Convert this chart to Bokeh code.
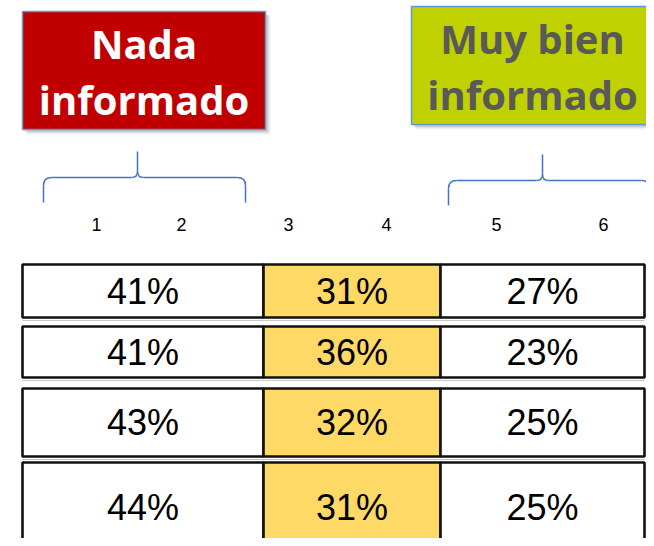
from bokeh.plotting import figure
from bokeh.models import Range1d
from bokeh.core.properties import value
from bokeh.embed import file_html
from bokeh.resources import INLINE

# ---- data ----
scale_ticks = ["1", "2", "3", "4", "5", "6"]
low_pct = [41, 41, 43, 44]      # 1-2  (Nada informado)
mid_pct = [31, 36, 32, 31]      # 3-4
high_pct = [27, 23, 25, 25]     # 5-6  (Muy bien informado)
box_titles = [["Nada", "informado"], ["Muy bien", "informado"]]

# ---- layout (pixel coordinates) ----
W, H = 646, 538
tick_x = [96, 181, 288, 386, 496, 603]
col_edges = [22, 263, 440, 644]
row_tops = [264, 326, 388, 462]
row_bottoms = [317, 377, 456, 552]
box_geo = [  # left, right, top, bottom
    (22, 265, 11, 129),
    (411, 653, 6, 124),
]
box_fill = ["#C00000", "#BFD100"]
box_text_color = ["#FFFFFF", "#595959"]
box_baselines = [(58, 114), (53, 109)]
braces = [  # x0, x1, y_horizontal, y_end, x_tip, y_tip
    (43, 245, 177, 202, 137, 151),
    (448, 649, 180, 205, 542, 154),
]
# compensation for how the svg backend places 'alphabetic' text
def base_fix(size):
    return -0.38 * size

p = figure(width=W, height=H,
           x_range=Range1d(0, W), y_range=Range1d(H, 0),
           output_backend="svg", toolbar_location=None,
           x_axis_location=None, y_axis_location=None,
           min_border=0, tools="")
p.grid.visible = False
p.outline_line_color = None
p.background_fill_color = "white"
p.border_fill_color = "white"

# ---- title boxes with soft shadow ----
for (l, r, t, b), fill in zip(box_geo, box_fill):
    for off, a in [(5, 0.08), (4, 0.12), (3, 0.16), (2, 0.2)]:
        p.quad(left=l + off, right=r + off, top=t + off, bottom=b + off,
               fill_color="#808080", fill_alpha=a, line_color=None)
    p.quad(left=l, right=r, top=t, bottom=b, fill_color=fill,
           line_color="#5B9BD5", line_width=1.5)

for (l, r, t, b), lines, col, bls in zip(box_geo, box_titles, box_text_color, box_baselines):
    cx = (l + r) / 2
    p.text(x=[cx] * len(lines), y=[v + base_fix(40) for v in bls], text=lines,
           text_align="center", text_baseline="alphabetic",
           text_font=value("Open Sans"), text_font_style="bold",
           text_font_size="40px", text_color=col)

# ---- braces ----
rad = 8
tip_r = 6
for x0, x1, yh, ye, xm, yt in braces:
    bl = "#4472C4"
    lw = 1.5
    p.segment(x0=[x0, x1], y0=[ye, ye], x1=[x0, x1], y1=[yh + rad, yh + rad],
              line_color=bl, line_width=lw)
    p.quadratic(x0=[x0, x1], y0=[yh + rad, yh + rad],
                x1=[x0 + rad, x1 - rad], y1=[yh, yh],
                cx=[x0, x1], cy=[yh, yh], line_color=bl, line_width=lw)
    p.segment(x0=[x0 + rad, x1 - rad], y0=[yh, yh],
              x1=[xm - tip_r, xm + tip_r], y1=[yh, yh],
              line_color=bl, line_width=lw)
    p.quadratic(x0=[xm - tip_r, xm + tip_r], y0=[yh, yh],
                x1=[xm, xm], y1=[yh - tip_r, yh - tip_r],
                cx=[xm, xm], cy=[yh, yh], line_color=bl, line_width=lw)
    p.segment(x0=[xm], y0=[yh - tip_r], x1=[xm], y1=[yt],
              line_color=bl, line_width=lw)

# ---- scale numbers ----
p.text(x=tick_x, y=[231 + base_fix(18)] * len(tick_x), text=scale_ticks,
       text_align="center", text_baseline="alphabetic",
       text_font=value("Liberation Sans"), text_font_size="18px",
       text_color="#000000")

# ---- table rows ----
col_fill = ["#FFFFFF", "#FFD966", "#FFFFFF"]
cols = [low_pct, mid_pct, high_pct]
for i in range(len(low_pct)):
    t, b = row_tops[i], row_bottoms[i]
    p.segment(x0=[col_edges[0]], y0=[b + 3], x1=[col_edges[-1]], y1=[b + 3],
              line_color="#C8C8C8", line_width=1.2)
    for j in range(3):
        p.quad(left=col_edges[j], right=col_edges[j + 1], top=t, bottom=b,
               fill_color=col_fill[j], line_color="#111111", line_width=2.6)
    cy = (t + b) / 2 + 14 + base_fix(36)
    p.text(x=[(col_edges[j] + col_edges[j + 1]) / 2 for j in range(3)],
           y=[cy] * 3,
           text=[f"{cols[j][i]}%" for j in range(3)],
           text_align="center", text_baseline="alphabetic",
           text_font=value("Liberation Sans"), text_font_size="36px",
           text_color="#000000")

open("out.html", "w").write(file_html(p, INLINE))
